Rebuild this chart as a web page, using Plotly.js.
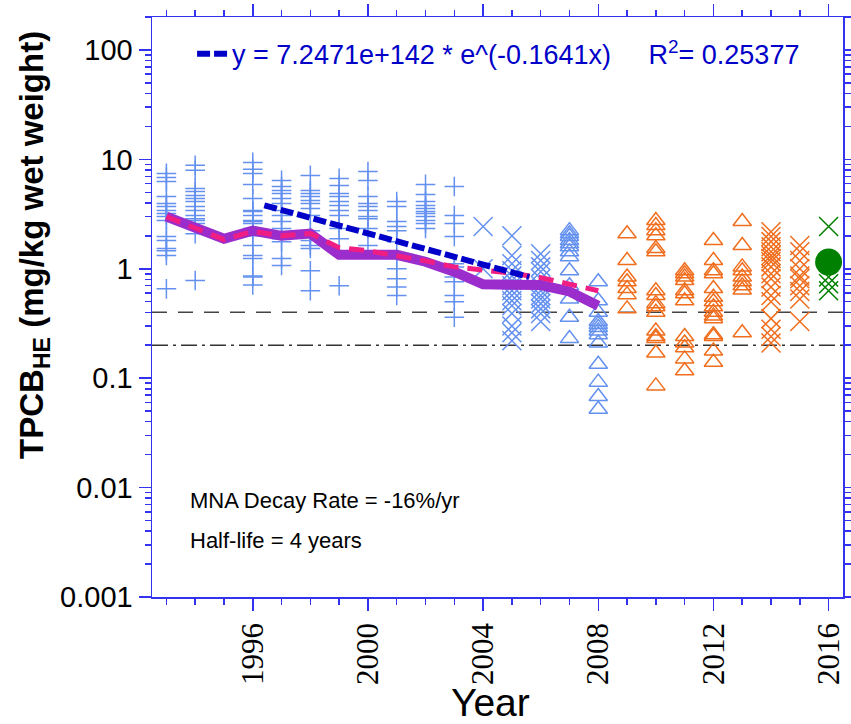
<!DOCTYPE html>
<html>
<head>
<meta charset="utf-8">
<script src="https://cdn.plot.ly/plotly-3.0.1.min.js"></script>
<style>html,body{margin:0;padding:0;background:#fff;}#chart{width:851px;height:724px;}</style>
</head>
<body>
<div id="chart"></div>
<script>
// ---- data ----
const plusYears = [1993, 1994, 1996, 1997, 1998, 1999, 2000, 2001, 2002, 2003];
const plusValues = [
  [7.44, 6.84, 6.28, 4.58, 3.95, 3.70, 3.40, 3.20, 3.0, 2.76, 1.97, 1.81, 1.53, 1.46, 1.32, 0.655],
  [8.81, 7.93, 5.42, 5.09, 4.68, 4.38, 4.12, 3.70, 3.40, 3.07, 2.87, 2.76, 2.59, 2.09, 0.78],
  [9.38, 8.1, 7.44, 5.9, 4.38, 3.40, 3.33, 3.07, 2.76, 2.70, 2.59, 2.33, 2.0, 1.63, 1.32, 1.24, 0.86, 0.84, 0.71],
  [6.42, 5.65, 5.2, 4.88, 4.38, 3.95, 3.40, 3.07, 2.70, 2.33, 1.88, 1.77, 1.24, 1.07],
  [7.13, 5.2, 4.88, 4.58, 4.2, 3.95, 3.55, 3.07, 2.23, 1.97, 1.81, 1.63, 1.53, 0.96, 0.63],
  [6.7, 5.78, 4.88, 4.58, 4.12, 3.79, 3.40, 3.07, 2.33, 1.88, 0.70],
  [7.75, 6.42, 4.58, 3.95, 3.70, 3.40, 3.0, 2.87, 2.33, 1.63],
  [4.12, 3.70, 2.70, 2.43, 2.23, 1.77, 1.24, 1.0, 0.81, 0.68, 0.57],
  [5.9, 4.77, 4.12, 3.79, 3.55, 3.33, 3.20, 3.0, 2.76, 2.59, 2.33],
  [5.65, 3.07, 2.59, 1.97, 1.11, 1.04, 0.84, 0.76, 0.57, 0.50, 0.36]
];
const blueXYears = [2004, 2005, 2006];
const blueXValues = [
  [2.43, 1.0],
  [2.0, 1.32, 1.11, 0.96, 0.86, 0.78, 0.70, 0.63, 0.57, 0.51, 0.46, 0.39, 0.30, 0.26, 0.22],
  [1.37, 1.19, 1.04, 0.94, 0.81, 0.70, 0.63, 0.57, 0.53, 0.48, 0.43, 0.39, 0.33]
];
const blueTriYears = [2007, 2008];
const blueTriValues = [
  [2.23, 2.09, 1.97, 1.81, 1.69, 1.59, 1.43, 1.29, 0.96, 0.70, 0.53, 0.36, 0.23],
  [0.76, 0.51, 0.40, 0.33, 0.31, 0.29, 0.27, 0.25, 0.21, 0.134, 0.092, 0.068, 0.052]
];
const orangeTriYears = [2009, 2010, 2011, 2012, 2013];
const orangeTriValues = [
  [2.09, 1.19, 0.84, 0.76, 0.66, 0.58, 0.43],
  [2.76, 2.48, 2.23, 2.0, 1.53, 1.43, 0.63, 0.57, 0.48, 0.45, 0.40, 0.27, 0.24, 0.23, 0.17, 0.085],
  [0.96, 0.90, 0.84, 0.78, 0.63, 0.59, 0.51, 0.24, 0.21, 0.19, 0.15, 0.117],
  [1.81, 1.19, 0.96, 0.90, 0.66, 0.55, 0.50, 0.45, 0.40, 0.37, 0.35, 0.25, 0.24, 0.177, 0.14],
  [2.70, 1.63, 1.04, 0.96, 0.84, 0.76, 0.70, 0.64, 0.26]
];
const orangeXYears = [2014, 2015];
const orangeXValues = [
  [2.18, 1.97, 1.77, 1.59, 1.43, 1.32, 1.24, 1.16, 1.04, 0.90, 0.81, 0.68, 0.57, 0.50, 0.35, 0.28, 0.24, 0.21],
  [1.63, 1.43, 1.19, 1.0, 0.86, 0.81, 0.70, 0.62, 0.53, 0.33]
];
const greenXYears = [2016];
const greenXValues = [[2.43, 0.84, 0.73, 0.63]];
const greenMeanYear = [2016];
const greenMeanValue = [1.15];

const meanYears = [1993, 1994, 1995, 1996, 1997, 1998, 1999, 2000, 2001, 2002, 2003, 2004, 2005, 2006, 2007, 2008];
const meanValues = [3.0, 2.38, 1.88, 2.23, 2.0, 2.1, 1.34, 1.34, 1.34, 1.16, 0.94, 0.72, 0.71, 0.71, 0.62, 0.46];
const smoothYears = [1993, 1994, 1995, 1996, 1997, 1998, 1999, 2000, 2001, 2002, 2003, 2004, 2005, 2006, 2007, 2008];
const smoothValues = [3.0, 2.35, 1.85, 2.2, 2.0, 2.1, 1.56, 1.46, 1.32, 1.18, 1.04, 0.98, 0.91, 0.83, 0.72, 0.63];
const fitYears = [1996.4, 2005.6];
const fitValues = [3.8, 0.84];
const refYears = [1992.5, 2016.5];
const level1 = [0.4, 0.4];
const level2 = [0.2, 0.2];

const yTickVals = [0.001, 0.01, 0.1, 1, 10, 100];
const yTickText = ['0.001', '0.01', '0.1', '1', '10', '100'];
const xTickVals = [1996, 2000, 2004, 2008, 2012, 2016];

// ---- build traces ----
function flatten(years, values) {
  const xs = [], ys = [];
  years.forEach((yr, i) => values[i].forEach(v => { xs.push(yr); ys.push(v); }));
  return {x: xs, y: ys};
}
const BLUE = 'rgb(100,145,240)';
const ORANGE = 'rgb(240,110,30)';
const GREEN = 'rgb(0,128,0)';

function scat(years, values, symbol, color, size) {
  const d = flatten(years, values);
  return {x: d.x, y: d.y, type: 'scatter', mode: 'markers', showlegend: false, hoverinfo: 'skip',
    marker: {symbol: symbol, size: size, color: color, line: {color: color, width: 1.5}}};
}

const minorY = [];
[-3, -2, -1, 0, 1, 2].forEach(e => { for (let k = 2; k <= 9; k++) { const v = k * Math.pow(10, e); if (v <= 200) minorY.push(v); } });

const traces = [
  {x: refYears, y: level1, type: 'scatter', mode: 'lines', showlegend: false, hoverinfo: 'skip',
   line: {color: '#444', width: 1.5, dash: '15px,11px'}},
  {x: refYears, y: level2, type: 'scatter', mode: 'lines', showlegend: false, hoverinfo: 'skip',
   line: {color: '#333', width: 1.5, dash: '16px,5px,3px,5px'}},
  scat(plusYears, plusValues, 'cross-thin-open', BLUE, 14),
  scat(blueXYears, blueXValues, 'x-thin-open', BLUE, 19),
  scat(blueTriYears, blueTriValues, 'triangle-up-open', BLUE, 16),
  scat(orangeTriYears, orangeTriValues, 'triangle-up-open', ORANGE, 16),
  scat(orangeXYears, orangeXValues, 'x-thin-open', ORANGE, 19),
  scat(greenXYears, greenXValues, 'x-thin-open', GREEN, 19),
  {x: greenMeanYear, y: greenMeanValue, type: 'scatter', mode: 'markers', showlegend: false, hoverinfo: 'skip',
   marker: {symbol: 'circle', size: 27, color: GREEN}},
  {x: meanYears, y: meanValues, type: 'scatter', mode: 'lines', showlegend: false, hoverinfo: 'skip',
   line: {color: 'rgb(155,45,205)', width: 10}},
  {x: smoothYears, y: smoothValues, type: 'scatter', mode: 'lines', showlegend: false, hoverinfo: 'skip',
   line: {color: 'rgb(240,30,130)', width: 5, dash: '15px,9px'}},
  {x: fitYears, y: fitValues, type: 'scatter', mode: 'lines', showlegend: true, hoverinfo: 'skip',
   name: 'y = 7.2471e+142 * e^(-0.1641x)\u00A0\u00A0\u00A0\u00A0\u00A0R<sup>2</sup>= 0.25377',
   line: {color: 'rgb(0,0,200)', width: 6, dash: '13px,4px'}}
];

const AXC = 'rgb(50,50,240)';
const SANS = 'Liberation Sans, Arial, sans-serif';
const SERIF = 'Liberation Serif, Times New Roman, serif';
const layout = {
  width: 851, height: 724,
  margin: {l: 152, r: 8, t: 17, b: 127},
  paper_bgcolor: '#fff', plot_bgcolor: '#fff',
  font: {family: SANS, color: '#000'},
  showlegend: true,
  legend: {x: 0.058, y: 0.978, xanchor: 'left', yanchor: 'top', bgcolor: 'rgba(0,0,0,0)',
    font: {family: SANS, size: 27, color: 'rgb(0,0,200)'},
    itemwidth: 30, tracegroupgap: 0},
  xaxis: {
    range: [1992.5, 2016.5], tickmode: 'array', tickvals: xTickVals,
    ticks: 'outside', ticklen: 12, tickwidth: 1.5, tickcolor: AXC,
    showline: true, linecolor: AXC, linewidth: 1.5, mirror: 'allticks',
    showgrid: false, zeroline: false, tickangle: -90,
    tickfont: {family: SERIF, size: 31, color: '#000'},
    minor: {ticks: 'outside', ticklen: 6, tickwidth: 1.5, tickcolor: AXC, dtick: 1, tick0: 1993, showgrid: false}
  },
  yaxis: {
    type: 'log', range: [-3, Math.log10(200)], tickmode: 'array', tickvals: yTickVals, ticktext: yTickText,
    ticks: 'outside', ticklen: 12, tickwidth: 1.5, tickcolor: AXC,
    showline: true, linecolor: AXC, linewidth: 1.5, mirror: 'allticks',
    showgrid: false, zeroline: false,
    tickfont: {family: SANS, size: 29, color: '#000'},
    minor: {ticks: 'outside', ticklen: 6, tickwidth: 1.5, tickcolor: AXC, tickmode: 'array', tickvals: minorY, showgrid: false}
  },
  annotations: [
    {text: '<b>TPCB<sub>HE</sub> (mg/kg wet weight)</b>', textangle: -90, xref: 'paper', yref: 'paper',
     x: 0, y: 0.607, xanchor: 'center', yanchor: 'middle', xshift: -118, showarrow: false,
     font: {family: SANS, size: 33, color: '#000'}},
    {text: 'Year', xref: 'paper', yref: 'paper', x: 0.49, y: -0.182, xanchor: 'center', yanchor: 'middle',
     showarrow: false, font: {family: SANS, size: 39, color: '#000'}},
    {text: 'MNA Decay Rate = -16%/yr', xref: 'paper', yref: 'paper', x: 0.052, y: 0.167, xanchor: 'left', yanchor: 'middle',
     showarrow: false, font: {family: SANS, size: 22, color: '#000'}},
    {text: 'Half-life = 4 years', xref: 'paper', yref: 'paper', x: 0.052, y: 0.098, xanchor: 'left', yanchor: 'middle',
     showarrow: false, font: {family: SANS, size: 22, color: '#000'}}
  ]
};

Plotly.newPlot('chart', traces, layout, {displayModeBar: false, staticPlot: true});
</script>
</body>
</html>
